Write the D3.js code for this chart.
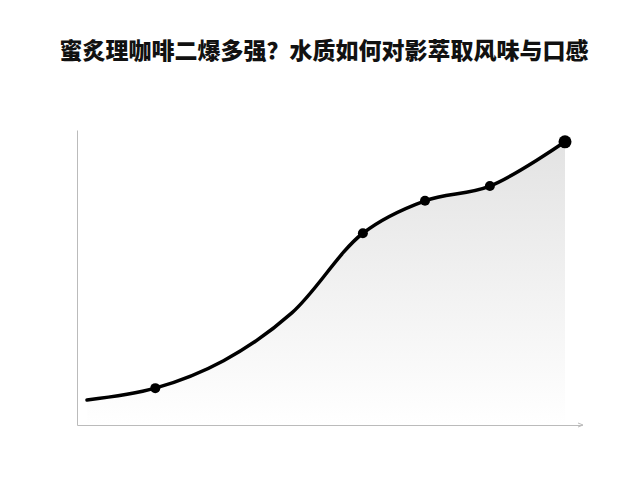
<!DOCTYPE html>
<html>
<head>
<meta charset="utf-8">
<script src="https://cdn.jsdelivr.net/npm/d3@7"></script>
<style>
  html, body { margin: 0; padding: 0; background: #fff; }
  svg { display: block; }
</style>
</head>
<body>
<svg id="chart" width="640" height="480"></svg>
<script>
'use strict';

var title = '蜜炙理咖啡二爆多强？水质如何对影萃取风味与口感';
// x steps along the curve, and the level at each step
var steps = [0, 1, 2, 3, 4.04, 4.95, 5.9, 7];
var levels = [8.5, 12.5, 21.8, 38, 65, 76, 81, 96];
// which steps carry a dot (0 = none, 1 = small, 2 = large)
var marks = [0, 1, 0, 0, 1, 1, 1, 2];

var svg = d3.select('#chart');
var pts = steps.map(function(s, i) { return {x: s, y: levels[i], m: marks[i]}; });

var x = d3.scaleLinear().domain([0, 7]).range([87, 565]);
var y = d3.scaleLinear().domain([0, 100]).range([425, 130]);

var defs = svg.append('defs');
var grad = defs.append('linearGradient')
  .attr('id', 'fade')
  .attr('x1', 0).attr('y1', 0).attr('x2', 0).attr('y2', 1);
grad.append('stop').attr('offset', '0%').attr('stop-color', '#e3e3e3');
grad.append('stop').attr('offset', '100%').attr('stop-color', '#ffffff');

svg.append('text')
  .attr('x', 324)
  .attr('y', 59)
  .attr('text-anchor', 'middle')
  .style('font-family', '"Noto Sans CJK SC", "Noto Sans", sans-serif')
  .style('font-size', '23px')
  .style('font-weight', '900')
  .attr('fill', '#111')
  .text(title);

var curve = d3.curveCatmullRom.alpha(0.5);

svg.append('path')
  .datum(pts)
  .attr('fill', 'url(#fade)')
  .attr('d', d3.area()
    .x(function(d) { return x(d.x); })
    .y0(y(0))
    .y1(function(d) { return y(d.y); })
    .curve(curve));

// axes without ticks, just the light rules
svg.append('g')
  .attr('transform', 'translate(77,0)')
  .call(d3.axisLeft(y).ticks(0).tickSizeOuter(0))
  .call(function(g) { g.select('.domain').attr('stroke', '#bbb'); });

svg.append('g')
  .attr('transform', 'translate(0,' + y(0) + ')')
  .call(d3.axisBottom(d3.scaleLinear().range([77, 582])).ticks(0).tickSizeOuter(0))
  .call(function(g) { g.select('.domain').attr('stroke', '#bbb'); });

svg.append('path')
  .attr('d', 'M578,423 L583,425 L578,427')
  .attr('fill', 'none')
  .attr('stroke', '#bbb');

svg.append('path')
  .datum(pts)
  .attr('fill', 'none')
  .attr('stroke', '#000')
  .attr('stroke-width', 3.5)
  .attr('stroke-linecap', 'round')
  .attr('d', d3.line()
    .x(function(d) { return x(d.x); })
    .y(function(d) { return y(d.y); })
    .curve(curve));

svg.selectAll('circle.dot')
  .data(pts.filter(function(d) { return d.m > 0; }))
  .enter().append('circle')
  .attr('class', 'dot')
  .attr('cx', function(d) { return x(d.x); })
  .attr('cy', function(d) { return y(d.y); })
  .attr('r', function(d) { return d.m === 2 ? 6.5 : 5; })
  .attr('fill', '#000');
</script>
</body>
</html>
